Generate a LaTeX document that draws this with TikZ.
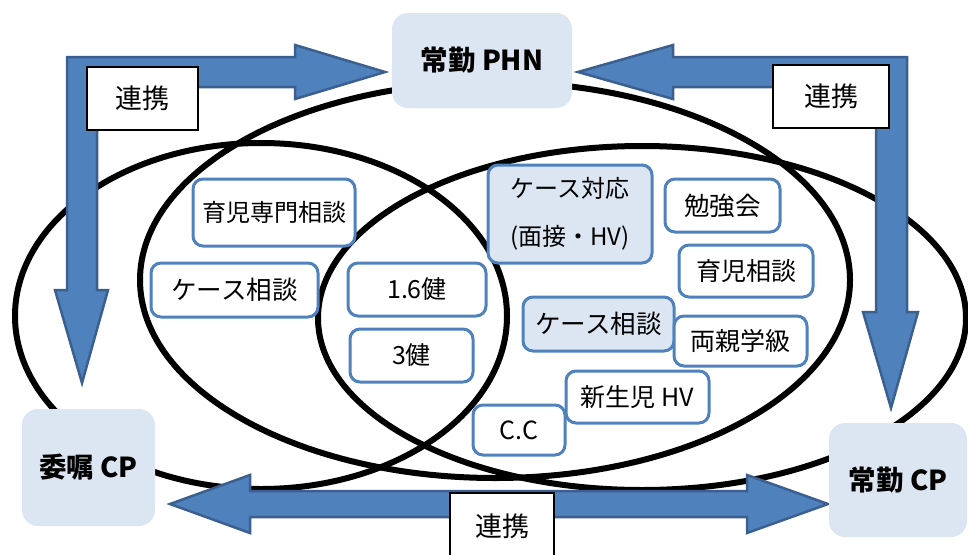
\documentclass[tikz,border=0pt]{standalone}
\usepackage{fontspec}
\setmainfont{Noto Sans CJK JP}
\definecolor{boxfill}{HTML}{DCE6F2}
\definecolor{boxline}{HTML}{4F81BD}
\definecolor{arrowfill}{HTML}{4F81BD}
\definecolor{arrowline}{HTML}{3B6090}
\tikzset{
 ell/.style={draw=black, line width=6pt},
 inbox/.style={draw=boxline, line width=3pt, rounded corners=10pt, fill=white, inner sep=0pt, font=\fontsize{24pt}{28pt}\selectfont},
 inboxf/.style={inbox, fill=boxfill},
 bigbox/.style={fill=boxfill, rounded corners=16pt, inner sep=0pt, font=\fontsize{27.5pt}{30pt}\selectfont\bfseries},
 renkei/.style={draw=black, line width=2.5pt, fill=white, inner sep=0pt, font=\fontsize{27pt}{30pt}\selectfont},
 barrow/.style={fill=arrowfill, draw=arrowline, line width=2.5pt, line join=miter},
}
\begin{document}
\begin{tikzpicture}[x=1pt,y=-1pt]
\useasboundingbox (0,0) rectangle (968,554);
% ellipses
\draw[ell] (261,316) ellipse [x radius=246pt, y radius=173pt];
\draw[ell] (642,318) ellipse [x radius=324pt, y radius=172pt];
\draw[ell] (495,280) ellipse [x radius=355pt, y radius=198pt];
% block arrows
\draw[barrow] (67,57) -- (295,57) -- (295,45) -- (385,72) -- (295,99) -- (295,87) -- (97,87) -- (97,290) -- (108,290) -- (82,383) -- (55,290) -- (67,290) -- cycle;
\draw[barrow] (907,57) -- (673,57) -- (673,45) -- (578,72) -- (673,99) -- (673,87) -- (876,87) -- (876,312) -- (863,312) -- (891,408) -- (918,312) -- (907,312) -- cycle;
\draw[barrow] (170,504) -- (250,475) -- (250,491) -- (747,491) -- (747,475) -- (828,504) -- (747,533) -- (747,517) -- (250,517) -- (250,533) -- cycle;
% main boxes
\node[bigbox, minimum width=180pt, minimum height=95pt] (phn) at (482,60.5) {常勤 PHN};
\node[bigbox, minimum width=133pt, minimum height=117pt] (itaku) at (88.5,467.5) {委嘱 CP};
\node[bigbox, minimum width=138pt, minimum height=114pt] (jcp) at (898,480) {常勤 CP};
% inner boxes
\node[inbox, minimum width=162pt, minimum height=67pt] (ikujisen) at (274,212.5) {育児専門相談};
\node[inbox, minimum width=167pt, minimum height=54pt, font=\fontsize{25.5pt}{28pt}\selectfont] (caseL) at (234.5,290) {ケース相談};
\node[inbox, minimum width=138pt, minimum height=53pt, font=\fontsize{25pt}{28pt}\selectfont] (k16) at (417,289.5) {1.6健};
\node[inbox, minimum width=123pt, minimum height=53pt, font=\fontsize{25pt}{28pt}\selectfont] (k3) at (411.5,355.5) {3健};
\node[inboxf, minimum width=164pt, minimum height=98pt, align=center, font=\fontsize{24pt}{48pt}\selectfont] (taiou) at (570,214) {ケース対応\\(面接・HV)};
\node[inbox, minimum width=115pt, minimum height=53pt, font=\fontsize{25.5pt}{28pt}\selectfont] (benkyo) at (722.5,205.5) {勉強会};
\node[inbox, minimum width=134pt, minimum height=52pt, font=\fontsize{25pt}{28pt}\selectfont] (ikuji) at (746,271) {育児相談};
\node[inboxf, minimum width=151pt, minimum height=54pt, font=\fontsize{25.5pt}{28pt}\selectfont] (caseR) at (598.5,324) {ケース相談};
\node[inbox, minimum width=133pt, minimum height=50pt, font=\fontsize{25pt}{28pt}\selectfont] (ryoshin) at (740.5,341) {両親学級};
\node[inbox, minimum width=92pt, minimum height=50pt, font=\fontsize{25pt}{28pt}\selectfont] (cc) at (519,430) {C.C};
\node[inbox, minimum width=143pt, minimum height=52pt, font=\fontsize{25pt}{28pt}\selectfont] (shinsei) at (637.5,397) {新生児 HV};
% renkei labels
\node[renkei, minimum width=111pt, minimum height=63pt] (rtl) at (142.5,98.5) {連携};
\node[renkei, minimum width=116pt, minimum height=63pt] (rtr) at (831,96.5) {連携};
\node[renkei, minimum width=104pt, minimum height=70pt] (rb) at (502,528) {};
\node[font=\fontsize{27pt}{30pt}\selectfont] (rbt) at (502,526) {連携};
\end{tikzpicture}
\end{document}
